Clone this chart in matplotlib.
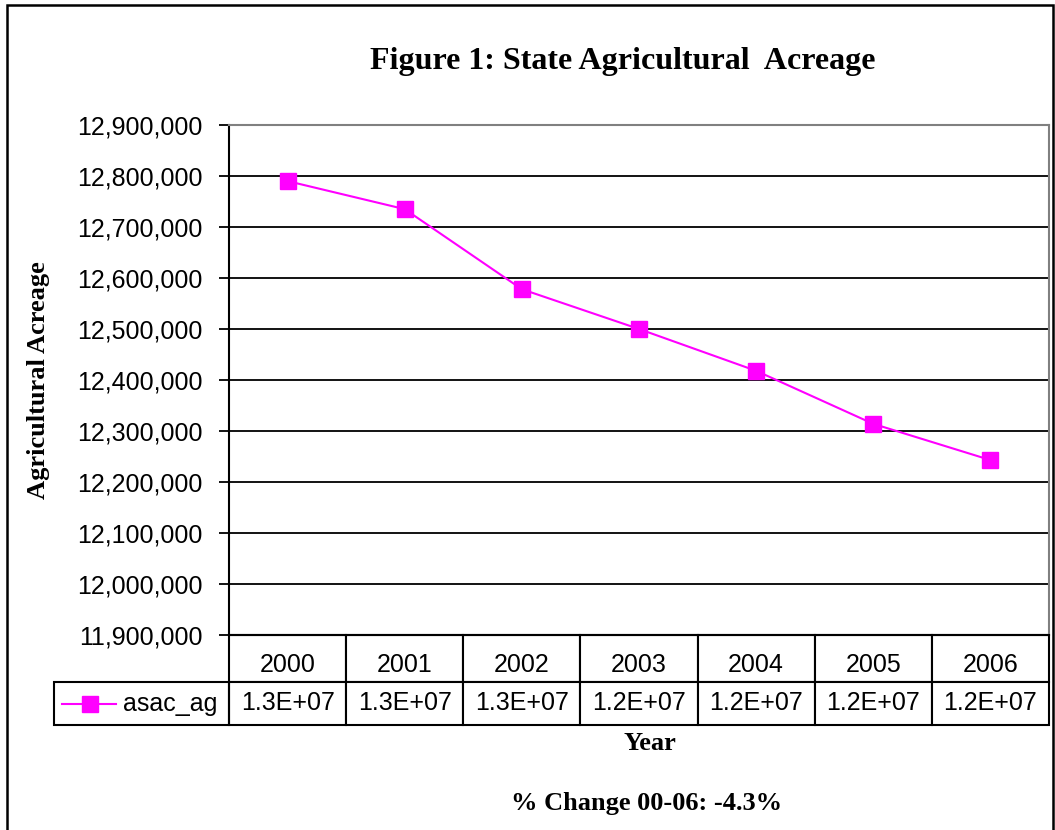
import numpy as np
import matplotlib
matplotlib.use('Agg')
import matplotlib.pyplot as plt
import matplotlib.transforms as mtransforms
from matplotlib.patches import Rectangle
from matplotlib.lines import Line2D
from matplotlib.ticker import FuncFormatter

years = ['2000', '2001', '2002', '2003', '2004', '2005', '2006']
acreage = [12790000, 12735000, 12578000, 12500000, 12418000, 12314000, 12243000]
series_name = 'asac_ag'
y_ticks = np.arange(11900000, 12900001, 100000)
pct_change = (acreage[-1] - acreage[0]) / acreage[0] * 100

MAG = '#ff00ff'


def main():
    plt.rcParams['font.family'] = ['Liberation Sans', 'DejaVu Sans']
    fig = plt.figure(figsize=(10.55, 8.3), dpi=100)
    W, H = 1055, 830
    x0, x1, y0, y1 = 229, 1049, 125, 635
    ax = fig.add_axes([x0 / W, 1 - y1 / H, (x1 - x0) / W, (y1 - y0) / H])

    x = np.arange(len(years))
    ax.plot(x, acreage, color=MAG, lw=1.5, marker='s', ms=11.5,
            mfc=MAG, mec=MAG, zorder=3)
    ax.set_xlim(-0.5, len(years) - 0.5)
    ax.set_ylim(y_ticks[0], y_ticks[-1])
    ax.set_yticks(y_ticks)
    ax.yaxis.set_major_formatter(FuncFormatter(lambda v, p: f'{int(v):,}'))
    ax.tick_params(axis='y', labelsize=18, length=7, width=1.3, direction='out', pad=12)
    ax.set_xticks([])
    ax.yaxis.grid(True, color='black', lw=1.3)
    ax.set_axisbelow(True)
    ax.spines['left'].set_linewidth(1.5)
    ax.spines['bottom'].set_linewidth(1.5)
    for s in ['top', 'right']:
        ax.spines[s].set_color('#808080')
        ax.spines[s].set_linewidth(1.5)

    ax.set_ylabel('Agricultural Acreage', family='Liberation Serif', fontweight='bold',
                  fontsize=19)
    ax.yaxis.set_label_coords((50 - x0) / (x1 - x0), 0.5)

    # data table below the axes
    ph = y1 - y0
    hh, dh = 47, 43
    cells = [['%.1E' % v for v in acreage]]
    tbl = ax.table(cellText=cells, colLabels=[''] * len(years), cellLoc='center',
                   bbox=[0, -(hh + dh) / ph, 1, (hh + dh) / ph])
    tbl.auto_set_font_size(False)
    tbl.set_fontsize(18)
    for (r, c), cell in tbl.get_celld().items():
        cell.set_edgecolor('black')
        cell.set_linewidth(1.5)
        cell.set_height(hh / ph if r == 0 else dh / ph)
    trans = mtransforms.blended_transform_factory(ax.transData, ax.transAxes)
    for i, yr in enumerate(years):
        ax.text(i, -30 / ph, yr, transform=trans, fontsize=18, ha='center', va='center')

    # legend key cell
    pw = x1 - x0
    lx0 = (54 - x0) / pw
    ax.add_patch(Rectangle((lx0, -(hh + dh) / ph), -lx0, dh / ph, transform=ax.transAxes,
                           fill=False, ec='black', lw=1.5, clip_on=False))
    yc = -(hh + dh / 2) / ph
    ax.add_line(Line2D([(62 - x0) / pw, (116 - x0) / pw], [yc, yc], color=MAG, lw=1.5,
                       transform=ax.transAxes, clip_on=False))
    ax.add_line(Line2D([(90 - x0) / pw], [yc], color=MAG, marker='s', ms=11,
                       transform=ax.transAxes, clip_on=False))
    ax.text((123 - x0) / pw, yc, series_name, transform=ax.transAxes, fontsize=18,
            va='center', ha='left')

    fig.text(623 / W, 1 - 62 / H, 'Figure 1: State Agricultural  Acreage',
             family='Liberation Serif', fontweight='bold', fontsize=23,
             ha='center', va='center')
    fig.text(650 / W, 1 - 743 / H, 'Year', family='Liberation Serif', fontweight='bold',
             fontsize=19, ha='center', va='center')
    fig.text(647 / W, 1 - 803 / H, f'% Change 00-06: {pct_change:.1f}%',
             family='Liberation Serif', fontweight='bold', fontsize=19,
             ha='center', va='center')

    fig.patches.append(Rectangle((7 / W, -0.05), (1053 - 7) / W, 1.05 - 5 / H,
                                 transform=fig.transFigure, fill=False, ec='black',
                                 lw=1.8, figure=fig))

    fig.savefig('out.png', dpi=100)


if __name__ == "__main__":
    main()
